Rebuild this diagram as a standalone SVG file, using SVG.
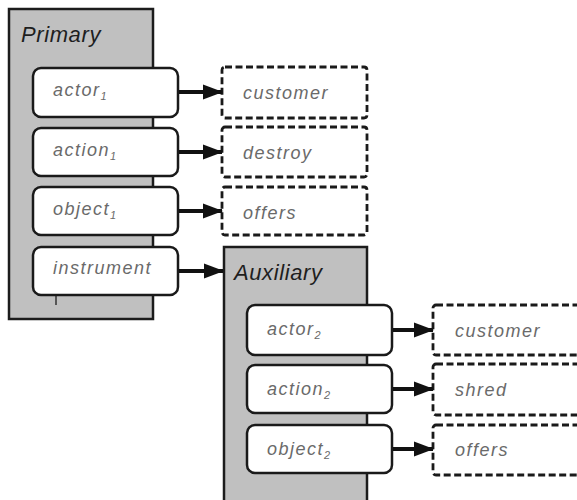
<svg xmlns="http://www.w3.org/2000/svg" width="577" height="500" viewBox="0 0 577 500">
  <style>
    .frame { fill: #c0c0c0; stroke: #1c1c1c; stroke-width: 2.5; }
    .title { font-family: "Liberation Sans", Arial, sans-serif; font-style: italic; font-size: 22px; letter-spacing: 0.6px; fill: #1e1e1e; }
    .slot { fill: #ffffff; stroke: #1a1a1a; stroke-width: 2.5; }
    .filler { fill: #ffffff; stroke: #1a1a1a; stroke-width: 2.8; stroke-dasharray: 7 3.5; }
    .label { font-family: "Liberation Sans", Arial, sans-serif; font-style: italic; font-size: 18px; letter-spacing: 1.5px; fill: #6a6a6a; }
    .sub { font-size: 11px; letter-spacing: 0; }
    .link { stroke: #111111; stroke-width: 4; fill: none; marker-end: url(#head); }
  </style>
  <defs>
    <marker id="head" markerUnits="userSpaceOnUse" markerWidth="20" markerHeight="16" refX="19" refY="8" orient="auto">
      <path d="M0,0.5 L20,8 L0,15.5 z" fill="#111111"/>
    </marker>
  </defs>

  <rect width="577" height="500" fill="#ffffff"/>

  <!-- Primary frame -->
  <g id="primary">
    <rect class="frame" x="9" y="9" width="144" height="310"/>
    <text class="title" x="21" y="42">Primary</text>
    <line x1="56" y1="296" x2="56" y2="305" stroke="#333" stroke-width="1.5"/>
  </g>

  <!-- Auxiliary frame -->
  <g id="auxiliary">
    <rect class="frame" x="224" y="247" width="143" height="262"/>
    <text class="title" x="234" y="280">Auxiliary</text>
  </g>

  <!-- Primary slots -->
  <g id="actor1">
    <rect class="slot" x="33" y="68" width="145" height="49" rx="8"/>
    <text class="label" x="53" y="96">actor<tspan class="sub" dy="4">1</tspan></text>
  </g>
  <g id="action1">
    <rect class="slot" x="33" y="128" width="145" height="48" rx="8"/>
    <text class="label" x="53" y="156">action<tspan class="sub" dy="4">1</tspan></text>
  </g>
  <g id="object1">
    <rect class="slot" x="33" y="187" width="145" height="48" rx="8"/>
    <text class="label" x="53" y="215">object<tspan class="sub" dy="4">1</tspan></text>
  </g>
  <g id="instrument">
    <rect class="slot" x="33" y="247" width="145" height="48" rx="8"/>
    <text class="label" x="53" y="274">instrument</text>
  </g>

  <!-- Primary fillers -->
  <g id="customer1">
    <rect class="filler" x="222" y="67" width="145" height="51" rx="3"/>
    <text class="label" x="243" y="99">customer</text>
  </g>
  <g id="destroy">
    <rect class="filler" x="222" y="127" width="145" height="50" rx="3"/>
    <text class="label" x="243" y="159">destroy</text>
  </g>
  <g id="offers1">
    <rect class="filler" x="222" y="187" width="145" height="48" rx="3"/>
    <text class="label" x="243" y="219">offers</text>
  </g>

  <!-- Auxiliary slots -->
  <g id="actor2">
    <rect class="slot" x="247" y="305" width="145" height="50" rx="8"/>
    <text class="label" x="267" y="335">actor<tspan class="sub" dy="4">2</tspan></text>
  </g>
  <g id="action2">
    <rect class="slot" x="247" y="365" width="145" height="48" rx="8"/>
    <text class="label" x="267" y="395">action<tspan class="sub" dy="4">2</tspan></text>
  </g>
  <g id="object2">
    <rect class="slot" x="247" y="425" width="145" height="48" rx="8"/>
    <text class="label" x="267" y="455">object<tspan class="sub" dy="4">2</tspan></text>
  </g>

  <!-- Auxiliary fillers -->
  <g id="customer2">
    <rect class="filler" x="433" y="305" width="160" height="50" rx="3"/>
    <text class="label" x="455" y="337">customer</text>
  </g>
  <g id="shred">
    <rect class="filler" x="433" y="364" width="160" height="51" rx="3"/>
    <text class="label" x="455" y="396">shred</text>
  </g>
  <g id="offers2">
    <rect class="filler" x="433" y="425" width="160" height="50" rx="3"/>
    <text class="label" x="455" y="456">offers</text>
  </g>

  <!-- Connectors -->
  <g id="connectors">
    <line class="link" x1="179" y1="92" x2="222" y2="92"/>
    <line class="link" x1="179" y1="152" x2="222" y2="152"/>
    <line class="link" x1="179" y1="211" x2="222" y2="211"/>
    <line class="link" x1="179" y1="271" x2="223" y2="271"/>
    <line class="link" x1="393" y1="330" x2="433" y2="330"/>
    <line class="link" x1="393" y1="389" x2="433" y2="389"/>
    <line class="link" x1="393" y1="449" x2="433" y2="449"/>
  </g>
</svg>
